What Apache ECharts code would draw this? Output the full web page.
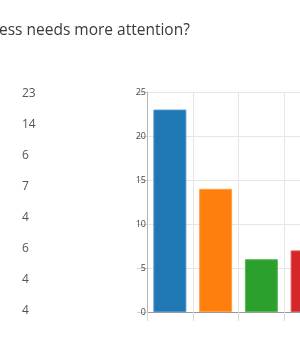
<!DOCTYPE html>
<html>
<head>
<meta charset="utf-8">
<script src="https://cdn.jsdelivr.net/npm/echarts@6/dist/echarts.min.js"></script>
<style>
html,body{margin:0;padding:0;background:#fff;overflow:hidden;width:300px;height:347px;}
#chart{width:520px;height:347px;}
</style>
</head>
<body>
<div id="chart"></div>
<script>
var titleText = 'ess needs more attention?';
var categories = ['A', 'B', 'C', 'D', 'E', 'F', 'G', 'H'];
var values = [23, 14, 6, 7, 4, 6, 4, 4];
var colors = ['#1f77b4', '#ff7f0e', '#2ca02c', '#d62728', '#9467bd', '#8c564b', '#e377c2', '#7f7f7f'];
var borders = ['#4a93c8', '#ffa040', '#55b955', '#e05252', '#a989cc', '#a5766b', '#ea99d2', '#9a9a9a'];
var yTicks = [0, 5, 10, 15, 20, 25];

var chart = echarts.init(document.getElementById('chart'), null, {renderer: 'canvas'});

var graphics = [{
  type: 'text', left: -1, top: 23,
  style: {text: titleText, font: '15.5px "Open Sans", sans-serif', fill: '#3a3a3a'}
}];
values.forEach(function (v, i) {
  graphics.push({
    type: 'text', left: 22, top: 88 + i * 31,
    style: {text: String(v), font: '12px "Open Sans", sans-serif', fill: '#555'}
  });
});

chart.setOption({
  animation: false,
  graphic: graphics,
  grid: {left: 147, top: 92, bottom: 35, width: 366, containLabel: false},
  xAxis: {
    type: 'category',
    data: categories,
    axisLine: {show: true, lineStyle: {color: '#9a9a9a', width: 1}},
    axisTick: {show: true, length: 9, lineStyle: {color: '#d8d8d8'}},
    axisLabel: {show: false},
    splitLine: {show: true, lineStyle: {color: '#e6e6e6'}}
  },
  yAxis: {
    type: 'value',
    min: 0, max: 25, interval: 5,
    axisLine: {show: true, lineStyle: {color: '#b5b5b5', width: 1}},
    axisTick: {show: true, length: 10, lineStyle: {color: '#d5d5d5'}},
    axisLabel: {margin: 1, fontSize: 9, color: '#444', fontFamily: 'Open Sans'},
    splitLine: {show: true, lineStyle: {color: '#e6e6e6'}}
  },
  series: [{
    type: 'bar',
    data: values.map(function (v, i) {
      return {value: v, itemStyle: {color: colors[i], borderColor: borders[i], borderWidth: 1}};
    }),
    barWidth: '72%'
  }]
});
</script>
</body>
</html>
